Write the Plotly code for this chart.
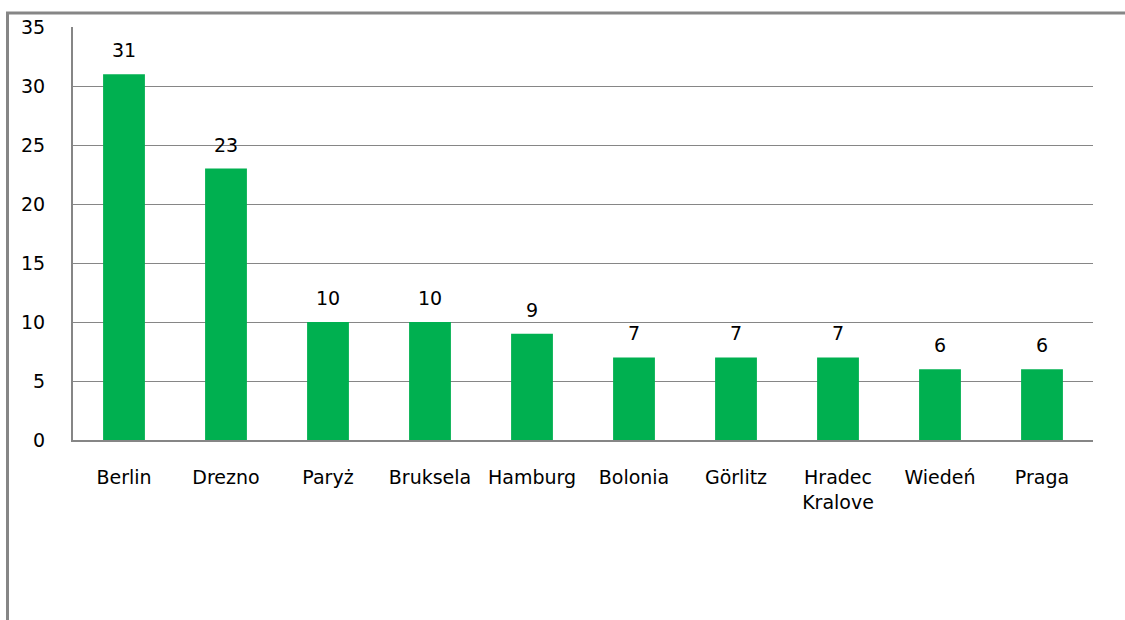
import plotly.graph_objects as go

categories = ["Berlin", "Drezno", "Paryż", "Bruksela", "Hamburg", "Bolonia",
              "Görlitz", "Hradec<br>Kralove", "Wiedeń", "Praga"]
values = [31, 23, 10, 10, 9, 7, 7, 7, 6, 6]
y_ticks = [0, 5, 10, 15, 20, 25, 30, 35]

W, H = 1125, 620
L, R, T, B = 73, 32, 27, 180
pw, ph = W - L - R, H - T - B

def px_x(x):
    return (x - L) / pw

def px_y(y):
    return (H - B - y) / ph

FONT = "DejaVu Sans"
FS = 19
GRAY = "#868686"

fig = go.Figure(go.Bar(x=categories, y=values, marker_color="#00B050",
                       marker_line_width=0, width=0.41))

for c, v in zip(categories, values):
    fig.add_annotation(x=c, y=v, text=str(v), showarrow=False,
                       yanchor="bottom", yshift=11,
                       font=dict(family=FONT, size=FS, color="black"))

gray_line = dict(color=GRAY, width=3)
fig.add_shape(type="line", xref="paper", yref="paper",
              x0=px_x(7.5), x1=px_x(7.5), y0=px_y(12), y1=px_y(625), line=gray_line)
fig.add_shape(type="line", xref="paper", yref="paper",
              x0=px_x(6), x1=px_x(1130), y0=px_y(13), y1=px_y(13), line=gray_line)

fig.update_layout(
    width=W, height=H,
    margin=dict(l=L, r=R, t=T, b=B),
    paper_bgcolor="white", plot_bgcolor="white",
    showlegend=False,
    font=dict(family=FONT, size=FS, color="black"),
    xaxis=dict(showline=True, linecolor=GRAY, linewidth=2, showgrid=False,
               ticks="", ticklabelstandoff=19, tickfont=dict(size=FS)),
    yaxis=dict(range=[0, 35], tickvals=y_ticks, showline=True, linecolor=GRAY,
               linewidth=2, showgrid=True, gridcolor=GRAY, gridwidth=1,
               ticks="", ticklabelstandoff=22, zeroline=False,
               tickfont=dict(size=FS)),
)

fig.write_html("out.html", config={"displayModeBar": False},
               post_script="document.body.style.margin='0';")
